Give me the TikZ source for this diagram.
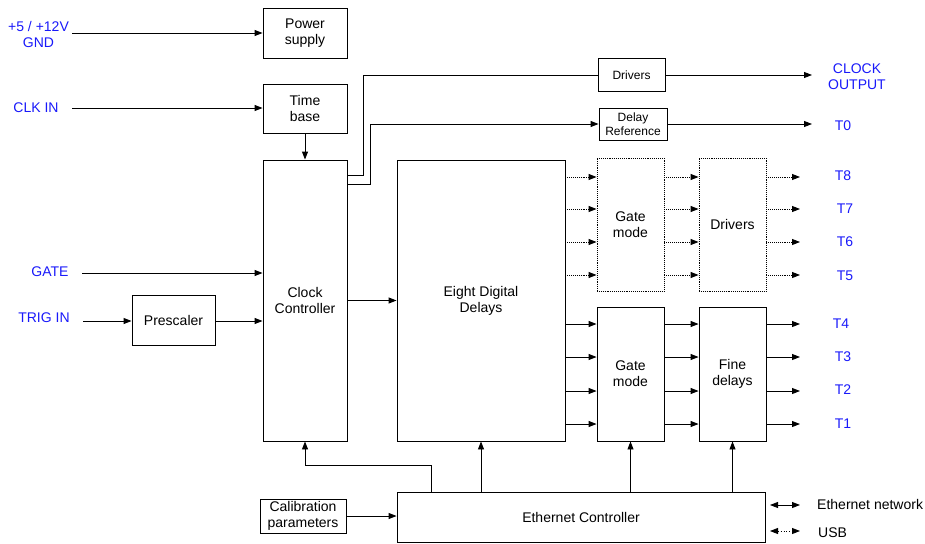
\documentclass[tikz,border=0pt]{standalone}
\usepackage{fontspec}
\setmainfont{Liberation Sans}
\usetikzlibrary{arrows.meta}
\definecolor{lblue}{RGB}{25,25,250}
\tikzset{
  box/.style={draw, line width=0.9pt, inner sep=0pt, align=center, font=\fontsize{14}{16}\selectfont},
  sbox/.style={draw, line width=0.9pt, inner sep=0pt, align=center, font=\fontsize{12}{14}\selectfont},
  dbox/.style={box, densely dotted},
  lbl/.style={text=lblue, align=center, inner sep=0pt, font=\fontsize{14}{16}\selectfont},
  txt/.style={align=left, inner sep=0pt, font=\fontsize{14}{16}\selectfont},
  arr/.style={line width=0.9pt, -{Triangle[length=8pt,width=6pt]}},
  darr/.style={arr, densely dotted},
  ln/.style={line width=0.9pt}
}
\begin{document}
\begin{tikzpicture}[x=1pt,y=-1pt]
\useasboundingbox (0,0) rectangle (925,543);
% boxes
\node[box, minimum width=84pt, minimum height=50pt] (ps) at (305,33) {Power\\supply};
\node[box, minimum width=84pt, minimum height=49pt] (tb) at (305,108.5) {Time\\base};
\node[box, minimum width=84pt, minimum height=281pt] (cc) at (305,300.5) {Clock\\Controller};
\node[box, minimum width=83pt, minimum height=50pt] (pre) at (173.5,320) {Prescaler};
\node[box, minimum width=168pt, minimum height=281pt] (edd) at (481,300.5) {Eight Digital\\Delays};
\node[dbox, minimum width=67pt, minimum height=133pt] (gm1) at (630.5,224.5) {Gate\\mode};
\node[dbox, minimum width=67pt, minimum height=133pt] (dr1) at (732.5,224.5) {Drivers};
\node[box, minimum width=67pt, minimum height=134pt] (gm2) at (630.5,374) {Gate\\mode};
\node[box, minimum width=67pt, minimum height=134pt] (fd) at (732.5,374) {Fine\\delays};
\node[sbox, minimum width=67pt, minimum height=33pt] (drs) at (631.5,75) {Drivers};
\node[sbox, minimum width=68pt, minimum height=32pt] (dref) at (633,124) {Delay\\Reference};
\node[box, minimum width=86pt, minimum height=34pt] (cal) at (303,516) {Calibration\\parameters};
\node[box, minimum width=368pt, minimum height=50pt] (ec) at (581,517) {Ethernet Controller};
% labels
\node[lbl] (lpow) at (38.5,34.5) {+5 / +12V\\GND};
\node[lbl] (lclk) at (36,108) {CLK IN};
\node[lbl] (lgate) at (50,272) {GATE};
\node[lbl] (ltrig) at (44,318) {TRIG IN};
\node[lbl] (lclko) at (857,77) {CLOCK\\OUTPUT};
\node[lbl] (lt0) at (843,126) {T0};
\node[lbl] (lt8) at (843,176) {T8};
\node[lbl] (lt7) at (845,209) {T7};
\node[lbl] (lt6) at (845,242) {T6};
\node[lbl] (lt5) at (845,276) {T5};
\node[lbl] (lt4) at (841,324) {T4};
\node[lbl] (lt3) at (843,357) {T3};
\node[lbl] (lt2) at (843,390) {T2};
\node[lbl] (lt1) at (843,424) {T1};
\node[txt, anchor=west] (leth) at (817,504) {Ethernet network};
\node[txt, anchor=west] (lusb) at (818,533) {USB};
% coordinates
\coordinate (ipow) at (72,33);
\coordinate (iclk) at (72,108);
\coordinate (igate) at (82,273);
\coordinate (itrig) at (83,321);
\coordinate (oclk) at (812,75);
\coordinate (ot0) at (812,124);
% inputs
\draw[arr] (ipow) -- (ps.west |- ipow);
\draw[arr] (iclk) -- (tb.west |- iclk);
\draw[arr] (igate) -- (cc.west |- igate);
\draw[arr] (itrig) -- (pre.west |- itrig);
\draw[arr] (pre.east |- itrig) -- (cc.west |- itrig);
\draw[arr] (tb.south) -- (cc.north);
\draw[arr] (cc.east) -- (edd.west);
% clock controller to drivers / delay reference
\draw[ln] (cc.east |- 0,175) -- (363,175) |- (drs.west);
\draw[arr] (cc.east |- 0,184) -- (370,184) |- (dref.west);
\draw[arr] (drs.east) -- (oclk |- drs.east);
\draw[arr] (dref.east) -- (ot0 |- dref.east);
% dotted channels
\foreach \y in {177,209,242,275}{
  \draw[darr] (edd.east |- 0,\y) -- (gm1.west |- 0,\y);
  \draw[darr] (gm1.east |- 0,\y) -- (dr1.west |- 0,\y);
  \draw[darr] (dr1.east |- 0,\y) -- (800,\y);
}
% solid channels
\foreach \y in {324,357,391,424}{
  \draw[arr] (edd.east |- 0,\y) -- (gm2.west |- 0,\y);
  \draw[arr] (gm2.east |- 0,\y) -- (fd.west |- 0,\y);
  \draw[arr] (fd.east |- 0,\y) -- (800,\y);
}
% ethernet controller
\draw[arr] (ec.north -| edd.south) -- (edd.south);
\draw[arr] (ec.north -| gm2.south) -- (gm2.south);
\draw[arr] (ec.north -| fd.south) -- (fd.south);
\draw[arr] (431,492) -- (431,465) -| (cc.south);
\draw[arr] (cal.east) -- (ec.west |- cal.east);
\coordinate (eth1) at (770,505);
\coordinate (eth2) at (800,505);
\coordinate (usb1) at (770,531);
\coordinate (usb2) at (800,531);
\draw[line width=0.9pt, {Triangle[length=8pt,width=6pt]}-{Triangle[length=8pt,width=6pt]}] (eth1) -- (eth2);
\draw[line width=0.9pt, dotted, {Triangle[length=8pt,width=6pt]}-{Triangle[length=8pt,width=6pt]}] (usb1) -- (usb2);
\end{tikzpicture}
\end{document}
